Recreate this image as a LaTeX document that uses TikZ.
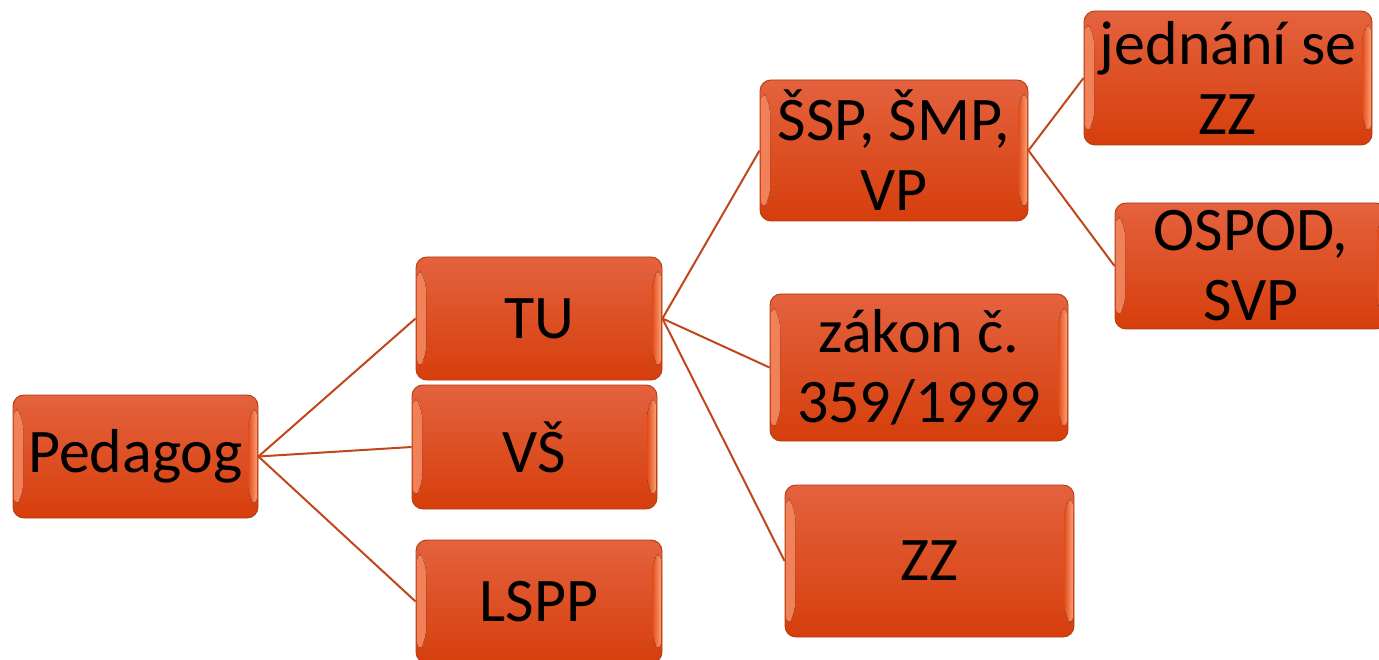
\documentclass[tikz,border=0pt]{standalone}
\usepackage{fontspec}
\setmainfont{Carlito}
\newfontfamily\boxfont{Carlito}
\definecolor{boxtop}{RGB}{228,98,62}
\definecolor{boxmid}{RGB}{226,74,26}
\definecolor{boxbot}{RGB}{214,62,12}
\definecolor{boxedge}{RGB}{178,60,18}
\definecolor{bevleft}{RGB}{240,130,90}
\definecolor{bevright}{RGB}{250,160,115}
\definecolor{linkcol}{RGB}{192,70,28}
\tikzset{
  box/.style={draw=boxedge, line width=0.9pt, rounded corners=11pt,
    top color=boxtop, middle color=boxmid, bottom color=boxbot,
    inner sep=0pt, align=center, text=black,
    font=\boxfont\fontsize{62}{70}\selectfont,
    path picture={
      \fill[left color=bevleft, right color=boxmid]
        ([xshift=1pt,yshift=-10pt]path picture bounding box.north west) --
        ([xshift=10pt,yshift=-22pt]path picture bounding box.north west) --
        ([xshift=10pt,yshift=22pt]path picture bounding box.south west) --
        ([xshift=1pt,yshift=10pt]path picture bounding box.south west) -- cycle;
      \fill[right color=bevright, left color=boxmid]
        ([xshift=-1pt,yshift=-10pt]path picture bounding box.north east) --
        ([xshift=-10pt,yshift=-22pt]path picture bounding box.north east) --
        ([xshift=-10pt,yshift=22pt]path picture bounding box.south east) --
        ([xshift=-1pt,yshift=10pt]path picture bounding box.south east) -- cycle;
    }},
  link/.style={draw=linkcol, line width=2pt}
}
\begin{document}
\begin{tikzpicture}[x=1pt,y=-1pt]
\useasboundingbox (0,0) rectangle (1379,660);
\clip (0,0) rectangle (1379,660);
% nodes
\node[box, minimum width=245pt, minimum height=123pt] (ped) at (135.5,456.5) {Pedagog};
\node[box, minimum width=246pt, minimum height=123pt] (tu) at (539,318.5) {TU};
\node[box, minimum width=245pt, minimum height=124pt] (vs) at (534.5,447) {VŠ};
\node[box, minimum width=246pt, minimum height=123pt] (lspp) at (539,601.5) {LSPP};
\node[box, minimum width=268pt, minimum height=141pt] (ssp) at (894,150.5) {ŠSP, ŠMP,\\VP};
\node[box, minimum width=298pt, minimum height=147pt] (zakon) at (919,367.5) {zákon č.\\359/1999};
\node[box, minimum width=289pt, minimum height=152pt] (zz) at (929.5,561) {ZZ};
\node[box, minimum width=288pt, minimum height=134pt] (jed) at (1228,78) {jednání se\\ZZ};
\node[box, minimum width=272pt, minimum height=126pt] (ospod) at (1251,266) {OSPOD,\\SVP};
% connectors
\draw[link] (ped.east) -- (tu.west);
\draw[link] (ped.east) -- (vs.west);
\draw[link] (ped.east) -- (lspp.west);
\draw[link] (tu.east) -- (ssp.west);
\draw[link] (tu.east) -- (zakon.west);
\draw[link] (tu.east) -- (zz.west);
\draw[link] (ssp.east) -- (jed.west);
\draw[link] (ssp.east) -- (ospod.west);
\end{tikzpicture}
\end{document}
